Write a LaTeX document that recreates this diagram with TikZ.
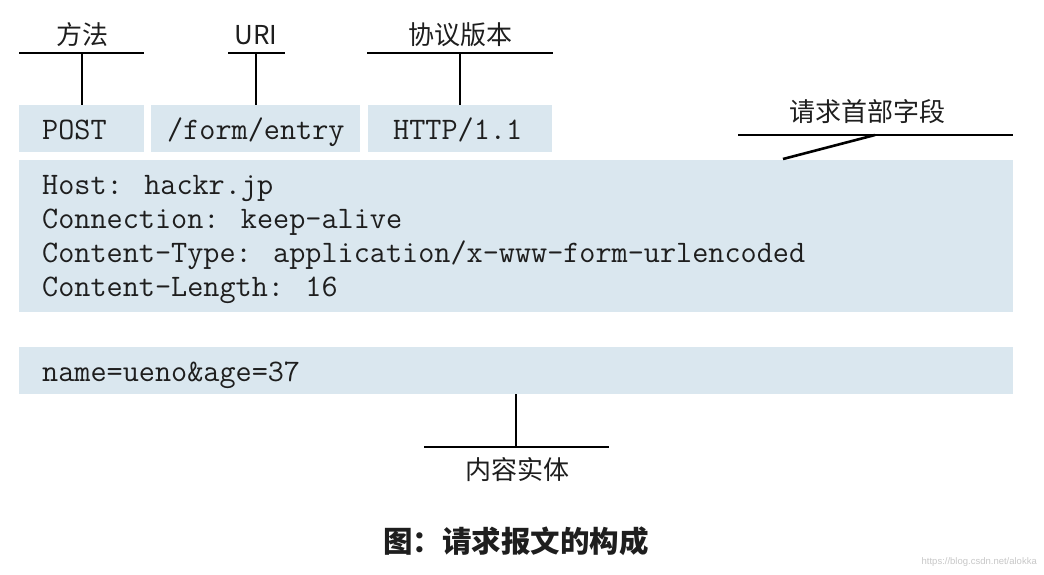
\documentclass[tikz,border=0pt]{standalone}
\usepackage{fontspec}
\newfontfamily\cjk{Noto Sans CJK SC}
\newfontfamily\wm{Liberation Sans}
\definecolor{boxblue}{HTML}{DAE7EF}
\definecolor{ink}{HTML}{1E1E1E}
\begin{document}
\begin{tikzpicture}[x=1pt,y=-1pt,
  box/.style={fill=boxblue, draw=none, inner sep=0pt, anchor=north west},
  lbl/.style={font=\cjk\fontsize{26}{26}\selectfont, text=ink, inner sep=0pt},
  mono/.style={font=\ttfamily\fontsize{31.3}{31.3}\selectfont, text=ink, inner sep=0pt, anchor=base west},
  ln/.style={line width=2.6pt, black}]
\useasboundingbox (0,0) rectangle (1044,574);

% boxes
\node[box, minimum width=125pt, minimum height=47pt] (postbox) at (19,105) {};
\node[box, minimum width=209pt, minimum height=47pt] (uribox) at (151,105) {};
\node[box, minimum width=184pt, minimum height=47pt] (verbox) at (368,105) {};
\node[box, minimum width=994pt, minimum height=152pt] (hdrbox) at (19,160) {};
\node[box, minimum width=994pt, minimum height=47pt] (bodybox) at (19,347) {};

% box texts
\node[mono] (tpost) at (42,139) {POST};
\node[mono] (turi) at (167,139) {/form/entry};
\node[mono] (tver) at (393,139) {HTTP/1.1};
\node[mono] (h1) at (42,194) {Host: hackr.jp};
\node[mono] (h2) at (42,228) {Connection: keep-alive};
\node[mono] (h3) at (42,262) {Content-Type: application/x-www-form-urlencoded};
\node[mono] (h4) at (42,296) {Content-Length: 16};
\node[mono] (tbody) at (42,381) {name=ueno\&age=37};

% labels
\node[lbl] (lmethod) at (82,35) {方法};
\node[lbl] (luri) at (256,35) {URI};
\node[lbl] (lver) at (460,35) {协议版本};
\node[lbl] (lhdr) at (867,112) {请求首部字段};
\node[lbl] (lbody) at (517,470) {内容实体};

% label connectors
\coordinate (m1) at (19,53); \coordinate (m2) at (144,53); \coordinate (mt) at (82,53);
\draw[ln] (m1) -- (m2);
\draw[ln] (mt) -- (postbox.north -| mt);
\coordinate (u1) at (228,53); \coordinate (u2) at (285,53); \coordinate (ut) at (256,53);
\draw[ln] (u1) -- (u2);
\draw[ln] (ut) -- (uribox.north -| ut);
\coordinate (v1) at (367,53); \coordinate (v2) at (553,53); \coordinate (vt) at (460,53);
\draw[ln] (v1) -- (v2);
\draw[ln] (vt) -- (verbox.north -| vt);
\coordinate (r1) at (738,135); \coordinate (r2) at (1013,135); \coordinate (rt) at (875,135);
\coordinate (rb) at (783,159);
\draw[ln] (r1) -- (r2);
\draw[ln] (rt) -- (rb);
\coordinate (b1) at (424,447); \coordinate (b2) at (609,447); \coordinate (bt) at (516,447);
\draw[ln] (b1) -- (b2);
\draw[ln] (bodybox.south -| bt) -- (bt);

% caption
\node[font=\cjk\bfseries\fontsize{29.5}{29.5}\selectfont, text=ink, inner sep=0pt] (cap) at (516,541) {图：请求报文的构成};
\node[font=\wm\fontsize{9.5}{9.5}\selectfont, text=black!22, inner sep=0pt, anchor=east] (wmk) at (1037,562) {https://blog.csdn.net/alokka};
\end{tikzpicture}
\end{document}
